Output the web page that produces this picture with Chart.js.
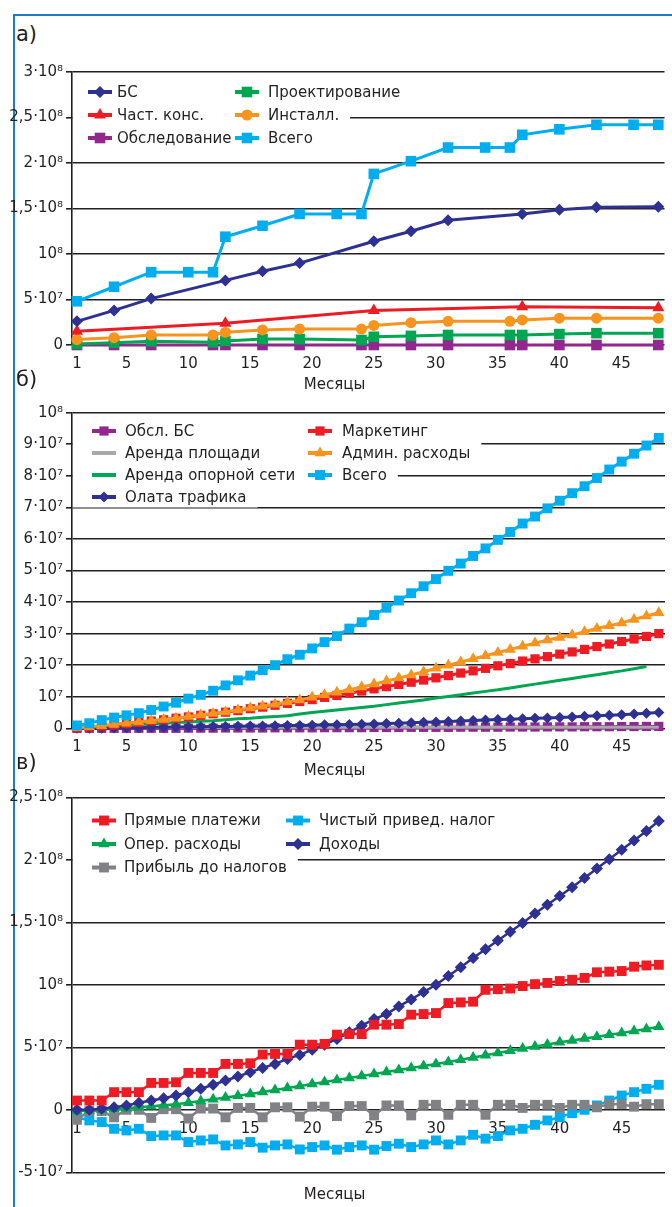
<!DOCTYPE html>
<html>
<head>
<meta charset="utf-8">
<script src="https://cdn.jsdelivr.net/npm/chart.js@4.4.1/dist/chart.umd.min.js"></script>
<style>
  body { margin: 0; background: #fff; }
  #page { position: relative; width: 672px; height: 1207px; overflow: hidden; font-family: "DejaVu Sans", sans-serif; color: #231f20; }
  .frame { position: absolute; left: 13px; top: 14px; width: 700px; height: 1300px; border-left: 2px solid #1c7cc7; border-top: 2px solid #1c7cc7; }
  .lbl { position: absolute; left: 16px; font-size: 21px; z-index: 2; }
  canvas { position: absolute; left: 0; }
</style>
</head>
<body>
<div id="page">
  <div class="frame"></div>
  <canvas id="ca" width="672" height="350" style="top:50px"></canvas>
  <canvas id="cb" width="672" height="385" style="top:400px"></canvas>
  <canvas id="cc" width="672" height="422" style="top:785px"></canvas>
  <div class="lbl" style="top:22px">а)</div>
  <div class="lbl" style="top:367px">б)</div>
  <div class="lbl" style="top:750px">в)</div>
</div>
<script>
// ---- данные (млн) ----
const xTicks = [1, 5, 10, 15, 20, 25, 30, 35, 40, 45];
const months = [1,2,3,4,5,6,7,8,9,10,11,12,13,14,15,16,17,18,19,20,21,22,23,24,
  25,26,27,28,29,30,31,32,33,34,35,36,37,38,39,40,41,42,43,44,45,46,47,48];

// а) капитальные затраты
const aYTicks = [0, 5e7, 1e8, 1.5e8, 2e8, 2.5e8, 3e8];
const aYLabels = ['0', '5·10⁷', '10⁸', '1,5·10⁸', '2·10⁸', '2,5·10⁸', '3·10⁸'];
const aMonthsTotal = [1,4,7,10,12,13,16,19,22,24,25,28,31,34,36,37,40,43,46,48];
const aTotal = [48,64,80,80,80,119,131,144,144,144,188,202,217,217,217,231,237,242,242,242];
const aMonthsBS = [1,4,7,13,16,19,25,28,31,37,40,43,48];
const aBS = [26,38,51,71,81,90,114,125,137,144,148.5,151.5,152];
const aMonthsCons = [1,13,25,37,48];
const aCons = [15,24,38,42,41];
const aMonthsInst = [1,4,7,12,13,16,19,24,25,28,31,36,37,40,43,48];
const aInst = [6,8,11,11,14,16.5,17.5,17.5,21.5,24.5,26,26,27.5,29.5,29.5,29.5];
const aDesign = [1,2.5,4,3,4.5,6.5,6.5,5.5,9,10,11,11,11,12,13,13];
const aSurvey = [0,0,0,0,0,0,0,0,0,0,0,0,0,0,0,0];

// б) операционные расходы
const bYTicks = [0, 1e7, 2e7, 3e7, 4e7, 5e7, 6e7, 7e7, 8e7, 9e7, 1e8];
const bYLabels = ['0', '10⁷', '2·10⁷', '3·10⁷', '4·10⁷', '5·10⁷', '6·10⁷', '7·10⁷', '8·10⁷', '9·10⁷', '10⁸'];
const bTotal = [0.9,1.6,2.6,3.4,4.1,4.8,5.8,6.9,8.1,9.4,10.6,11.9,13.6,15.2,16.7,18.4,20.0,21.9,23.3,25.3,
  27.3,29.2,31.6,33.6,35.9,38.2,40.5,42.8,45.0,47.3,49.9,52.2,54.6,57.0,59.7,62.2,64.9,67.1,69.7,72.1,
  74.5,76.7,79.3,82.0,84.5,87.0,89.6,92.0];
const bAdmin = [0.2,0.5,0.8,1.2,1.6,2.0,2.4,2.8,3.2,3.7,4.2,4.7,5.2,5.8,6.4,7.0,7.6,8.3,9.0,9.8,
  10.6,11.4,12.2,13.1,14.0,15.0,15.9,16.9,17.9,19.0,20.0,21.0,22.0,23.0,24.0,25.0,26.0,27.0,28.0,28.8,
  29.6,30.6,31.6,32.5,33.4,34.5,35.6,36.6];
const bMarketing = [0.1,0.4,0.7,1.1,1.5,1.9,2.3,2.7,3.2,3.6,4.1,4.6,5.1,5.6,6.2,6.7,7.3,7.9,8.5,9.1,
  9.8,10.4,11.1,11.8,12.5,13.2,13.9,14.6,15.3,16.0,16.7,17.5,18.2,19.0,19.8,20.5,21.3,22.0,22.7,23.5,
  24.2,25.0,25.9,26.7,27.5,28.3,29.1,30.0];
const bBackbone = [0.2,0.4,0.6,0.8,1.0,1.2,1.4,1.6,1.8,2.0,2.2,2.4,2.7,3.0,3.2,3.5,3.7,4.0,4.5,5.0,
  5.4,5.8,6.2,6.6,7.0,7.5,8.0,8.5,9.0,9.6,10.1,10.6,11.2,11.7,12.2,12.8,13.4,14.0,14.6,15.2,
  15.8,16.4,17.0,17.6,18.2,18.9,19.6,null];
const bTraffic = [0,0,0.05,0.1,0.15,0.2,0.3,0.35,0.4,0.45,0.5,0.55,0.6,0.65,0.7,0.75,0.8,0.85,0.9,1.0,
  1.1,1.15,1.2,1.3,1.4,1.5,1.6,1.75,1.9,2.0,2.15,2.3,2.45,2.6,2.75,2.9,3.0,3.15,3.3,3.45,
  3.6,3.8,3.95,4.1,4.3,4.5,4.75,5.0];
const bSurvey = [0,0,0,0,0,0,0,0,0,0.05,0.05,0.05,0.1,0.1,0.1,0.1,0.15,0.15,0.15,0.15,0.2,0.2,0.2,0.2,
  0.25,0.25,0.25,0.3,0.3,0.3,0.3,0.35,0.35,0.35,0.35,0.4,0.4,0.4,0.45,0.45,0.45,0.5,0.5,0.5,0.55,0.55,0.6,0.6];
const bRent = [0.3,0.3,0.3,0.3,0.3,0.3,0.3,0.3,0.3,0.3,0.3,0.3,0.3,0.3,0.3,0.3,0.3,0.3,0.3,0.3,0.3,0.3,0.3,0.3,
  0.3,0.3,0.3,0.3,0.3,0.3,0.3,0.3,0.3,0.3,0.3,0.3,0.3,0.3,0.3,0.3,0.3,0.3,0.3,0.3,0.3,0.3,0.3,0.3];

// в) доходы и налоги
const cYTicks = [-5e7, 0, 5e7, 1e8, 1.5e8, 2e8, 2.5e8];
const cYLabels = ['-5·10⁷', '0', '5·10⁷', '10⁸', '1,5·10⁸', '2·10⁸', '2,5·10⁸'];
const cPayments = [7.4,7.4,7.4,14.1,14.1,14.1,21.5,21.5,22,29.5,29.5,29.5,36.7,36.7,37.2,44.2,44.7,44.7,52.1,52.1,
  52.7,60.1,60.6,60.6,68.1,68.1,68.6,76.1,76.6,77.4,85.4,85.9,86.5,96,96.5,97,99,100.5,101.5,103,
  104,105.5,110,110.5,111,114.5,115.5,116];
const cRevenue = [0,0,0.8,2.1,3.5,5.6,7.4,9.3,11.4,14.1,16.8,20,23.4,26.6,30.1,33.5,36.7,40.7,43.9,48.1,
  52.1,56.7,62,67.3,72.6,76.6,82.7,88.3,94.2,100,107,114,121.5,128.5,135.5,142.5,149.5,157,164,171,
  178,185.5,193,200.5,208,215.5,223,231];
const cOpex = [-1,-0.5,0,0.5,1.2,2.0,2.8,3.6,4.5,5.6,7.0,8.4,9.8,11.2,12.6,14.2,15.8,17.4,19.0,20.6,
  22.2,23.8,25.4,27.0,28.6,30.2,31.8,33.4,35.0,36.6,38.3,40.0,41.8,43.6,45.4,47.2,49.0,50.7,52.3,54.0,
  55.5,57.0,58.5,60.0,61.4,63.0,64.7,66.5];
const cProfit = [-8,-1,-1,-6,0,0,-6.5,0.5,0.5,-7,1,1,-6,1.5,1.5,-6,2,2,-5.5,2.5,
  2.5,-5,3,3,-4.5,3.5,3.5,-4.5,4,4,-4,4,4,-4,4,4,1.5,4,4,1.5,
  4,4,2,4.5,4.5,2.5,4.5,4.5];
const cNetTax = [-6,-8.5,-9.8,-15.2,-16.5,-15.2,-21,-20.5,-20.5,-25.8,-24.5,-23.7,-28.5,-27.7,-25.8,-30.3,-28.5,-27.7,-31.7,-29.8,
  -28.5,-31.9,-29.8,-28.5,-31.9,-29,-27.1,-29.8,-27.7,-24.5,-27.7,-24.5,-20,-23.1,-21,-16.5,-15.2,-12,-8.5,-5.9,
  -2.7,0,3.5,7.4,11.4,14.1,16.8,20];

// ---- оформление ----
const FONT = '"DejaVu Sans", sans-serif';
const INK = '#231f20';
const DB = '#2e3192', RED = '#ed1c24', PUR = '#92278f', GRN = '#00a651',
      ORG = '#f7941d', LB = '#00aeef', GRY = '#808285', LGRY = '#a7a9ac';

function pts(ms, vals) {
  return ms.map((m, i) => ({ x: m, y: vals[i] == null ? null : vals[i] * 1e6 }));
}

function series(label, color, style, radius, data, pos, width) {
  return {
    label: label, data: data, legendPos: pos,
    borderColor: color, backgroundColor: color,
    borderWidth: width || 3, tension: 0, clip: false,
    pointStyle: style, pointRadius: radius, pointBorderWidth: 0, pointHoverRadius: radius
  };
}

// легенда внутри области графика, на белой подложке
const insideLegend = {
  id: 'insideLegend',
  afterDatasetsDraw(chart, args, opts) {
    const ctx = chart.ctx, area = chart.chartArea;
    const items = chart.data.datasets.filter(d => d.legendPos);
    ctx.save();
    ctx.font = '15px ' + FONT;
    ctx.textBaseline = 'middle';
    opts.rows.forEach((y, r) => {
      let end = area.left;
      items.forEach(d => {
        if (d.legendPos[1] === r) {
          end = Math.max(end, opts.cols[d.legendPos[0]][1] + ctx.measureText(d.label).width);
        }
      });
      ctx.fillStyle = '#fff';
      ctx.fillRect(area.left + 1, y - opts.half, end + 11 - area.left - 1, opts.half * 2);
    });
    items.forEach(d => {
      const mx = opts.cols[d.legendPos[0]][0];
      const tx = opts.cols[d.legendPos[0]][1];
      const y = opts.rows[d.legendPos[1]];
      ctx.strokeStyle = d.borderColor;
      ctx.lineWidth = 4;
      ctx.beginPath();
      ctx.moveTo(mx - 12, y);
      ctx.lineTo(mx + 12, y);
      ctx.stroke();
      if (d.pointRadius > 0) {
        ctx.fillStyle = d.backgroundColor;
        Chart.helpers.drawPoint(ctx, { pointStyle: d.pointStyle, radius: d.pointRadius, borderWidth: 0, rotation: 0 }, mx, y);
      }
      ctx.fillStyle = INK;
      ctx.fillText(d.label, tx, y + 1);
    });
    ctx.restore();
  }
};

function makeChart(id, datasets, yMin, yMax, yTicks, yLabels, lay, legend) {
  const x = {
    type: 'linear', min: 0.6, max: 48.5,
    afterBuildTicks: s => { s.ticks = xTicks.map(v => ({ value: v })); },
    grid: { display: false, drawTicks: false },
    border: { display: false },
    ticks: { font: { family: FONT, size: 15 }, color: INK, padding: lay.xPad, maxRotation: 0, autoSkip: false,
             callback: v => String(v) }
  };
  if (lay.xAtZero) {
    x.position = { y: 0 };
    x.afterFit = s => { s.height = 0; };
  } else {
    x.afterFit = s => { s.height = lay.xH; };
  }
  return new Chart(document.getElementById(id), {
    type: 'line',
    data: { datasets: datasets },
    plugins: [insideLegend],
    options: {
      responsive: false, animation: false,
      layout: { padding: { top: lay.top, right: 3, left: 0, bottom: 0 } },
      scales: {
        x: x,
        y: {
          min: yMin, max: yMax,
          afterBuildTicks: s => { s.ticks = yTicks.map(v => ({ value: v })); },
          afterFit: s => { s.width = 72; },
          grid: { color: INK, lineWidth: 1.6, drawTicks: true, tickLength: 6 },
          border: { display: true, color: INK, width: 1.6 },
          ticks: { font: { family: FONT, size: 15 }, color: INK, padding: 3,
                   callback: (v, i) => yLabels[i] }
        }
      },
      plugins: {
        legend: { display: false },
        tooltip: { enabled: false },
        title: { display: true, text: 'Месяцы', position: 'bottom', color: INK,
                 font: { family: FONT, size: 15, weight: 'normal' },
                 padding: { top: lay.tTop, bottom: lay.tBottom } },
        insideLegend: legend
      }
    }
  });
}

// а)
makeChart('ca', [
  series('Всего', LB, 'rect', 7.5, pts(aMonthsTotal, aTotal), [1, 2]),
  series('БС', DB, 'rectRot', 6, pts(aMonthsBS, aBS), [0, 0]),
  series('Част. конс.', RED, 'triangle', 7, pts(aMonthsCons, aCons), [0, 1]),
  series('Инсталл.', ORG, 'circle', 5.5, pts(aMonthsInst, aInst), [1, 1]),
  series('Проектирование', GRN, 'rect', 7.5, pts(aMonthsInst, aDesign), [1, 0]),
  series('Обследование', PUR, 'rect', 7.5, pts(aMonthsInst, aSurvey), [0, 2])
], 0, 3e8, aYTicks, aYLabels,
  { top: 22, xH: 31, xPad: 10, tTop: 0, tBottom: 6 },
  { cols: [[100, 117], [247, 268]], rows: [42, 65, 88], half: 11 });

// б)
makeChart('cb', [
  series('Всего', LB, 'rect', 7, pts(months, bTotal), [1, 2]),
  series('Админ. расходы', ORG, 'triangle', 6.5, pts(months, bAdmin), [1, 1]),
  series('Маркетинг', RED, 'rect', 6.5, pts(months, bMarketing), [1, 0]),
  series('Олата трафика', DB, 'rectRot', 5.5, pts(months, bTraffic), [0, 3]),
  series('Аренда опорной сети', GRN, 'circle', 0, pts(months, bBackbone), [0, 2]),
  series('Аренда площади', LGRY, 'circle', 0, pts(months, bRent), [0, 1]),
  series('Обсл. БС', PUR, 'rect', 6.5, pts(months, bSurvey), [0, 0])
], 0, 1e8, bYTicks, bYLabels,
  { top: 12.7, xH: 33.7, xPad: 10, tTop: 0, tBottom: 5 },
  { cols: [[104, 125], [320, 342]], rows: [31, 53, 75, 97], half: 10.5 });

// в)
makeChart('cc', [
  series('Прямые платежи', RED, 'rect', 7, pts(months, cPayments), [0, 0], 2.5),
  series('Доходы', DB, 'rectRot', 6, pts(months, cRevenue), [1, 1], 2.5),
  series('Опер. расходы', GRN, 'triangle', 6.5, pts(months, cOpex), [0, 1], 2.5),
  series('Прибыль до налогов', GRY, 'rect', 7, pts(months, cProfit), [0, 2], 2.5),
  series('Чистый привед. налог', LB, 'rect', 7, pts(months, cNetTax), [1, 0], 2.5)
], -5e7, 2.5e8, cYTicks, cYLabels,
  { top: 12.3, xAtZero: true, xPad: 10, tTop: 13.7, tBottom: 3 },
  { cols: [[104, 124], [298, 319]], rows: [35.5, 59, 82.5], half: 11 });
</script>
</body>
</html>
